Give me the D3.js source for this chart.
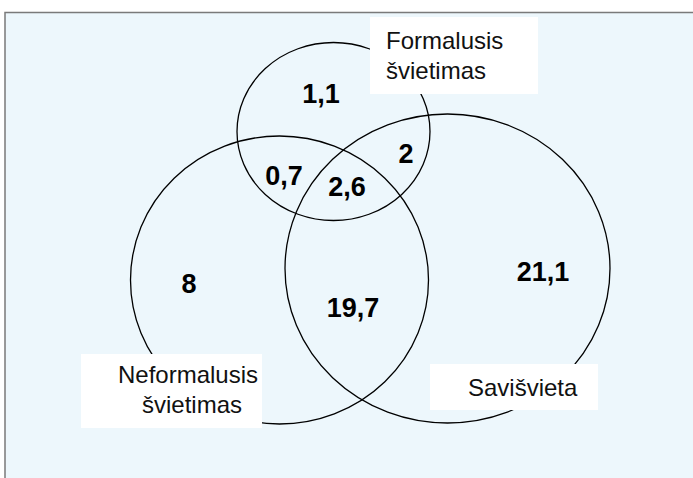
<!DOCTYPE html>
<html>
<head>
<meta charset="utf-8">
<script src="https://cdn.jsdelivr.net/npm/d3@7"></script>
<style>
  body { margin: 0; background: #fff; }
  svg { display: block; }
</style>
</head>
<body>
<svg></svg>
<script>
var w = 693;
var h = 478;

// sets of the diagram
var setNames = ["Formalusis švietimas", "Neformalusis švietimas", "Savišvieta"];
var setLabelLines = [["Formalusis", "švietimas"], ["Neformalusis", "švietimas"], ["Savišvieta"]];

// region values (share, %)
var regionNames = ["F", "F∩S", "F∩N", "F∩N∩S", "N", "N∩S", "S"];
var regionValues = [1.1, 2, 0.7, 2.6, 8, 19.7, 21.1];

// layout: ellipses, label boxes, number positions
var ellipses = [
  { cx: 333.5, cy: 131.5, rx: 96.5, ry: 89 },
  { cx: 279.5, cy: 280, rx: 149, ry: 144 },
  { cx: 447.5, cy: 268.5, rx: 162.5, ry: 154.5 }
];
var boxes = [
  { x: 370, y: 17, w: 168, h: 77, lines: [{ x: 386, y: 49 }, { x: 386, y: 79 }] },
  { x: 81, y: 354, w: 181, h: 74, lines: [{ x: 118, y: 383 }, { x: 142, y: 413 }] },
  { x: 430, y: 364, w: 168, h: 46, lines: [{ x: 468, y: 396 }] }
];
var regionPos = [
  [321, 103], [406, 163], [284, 185], [347, 196], [189, 293], [353, 317], [543, 281]
];

var fmt = d3.formatLocale({ decimal: ",", thousands: " ", grouping: [3], currency: ["", ""] }).format("~f");

function draw() {
  var svg = d3.select("svg").attr("width", w).attr("height", h);

  // plot frame
  svg.append("rect")
    .attr("x", 5).attr("y", 12.5)
    .attr("width", w).attr("height", h)
    .attr("fill", "#edf7fc")
    .attr("stroke", "#7a7a7a")
    .attr("stroke-width", 1.5);

  svg.selectAll("ellipse.set")
    .data(ellipses)
    .enter()
    .append("ellipse")
    .attr("class", "set")
    .attr("cx", function(d){ return d.cx; })
    .attr("cy", function(d){ return d.cy; })
    .attr("rx", function(d){ return d.rx; })
    .attr("ry", function(d){ return d.ry; })
    .attr("fill", "none")
    .attr("stroke", "#000")
    .attr("stroke-width", 1.3);

  // set labels in white boxes
  var g = svg.selectAll("g.lbl")
    .data(setNames)
    .enter()
    .append("g")
    .attr("class", "lbl");

  g.append("rect")
    .attr("x", function(d, i){ return boxes[i].x; })
    .attr("y", function(d, i){ return boxes[i].y; })
    .attr("width", function(d, i){ return boxes[i].w; })
    .attr("height", function(d, i){ return boxes[i].h; })
    .attr("fill", "#fff");

  g.each(function(d, i){
    d3.select(this).selectAll("text")
      .data(setLabelLines[i])
      .enter()
      .append("text")
      .text(function(t){ return t; })
      .attr("x", function(t, j){ return boxes[i].lines[j].x; })
      .attr("y", function(t, j){ return boxes[i].lines[j].y; })
      .attr("font-family", "'Liberation Sans', Arial, sans-serif")
      .attr("font-size", "24px")
      .attr("fill", "#111");
  });

  // region numbers
  svg.selectAll("text.val")
    .data(regionValues)
    .enter()
    .append("text")
    .attr("class", "val")
    .text(function(d){ return fmt(d); })
    .attr("x", function(d, i){ return regionPos[i][0]; })
    .attr("y", function(d, i){ return regionPos[i][1]; })
    .attr("text-anchor", "middle")
    .attr("font-family", "'Liberation Sans', Arial, sans-serif")
    .attr("font-weight", "bold")
    .attr("font-size", "27px")
    .attr("fill", "#000");
}

draw();
</script>
</body>
</html>
